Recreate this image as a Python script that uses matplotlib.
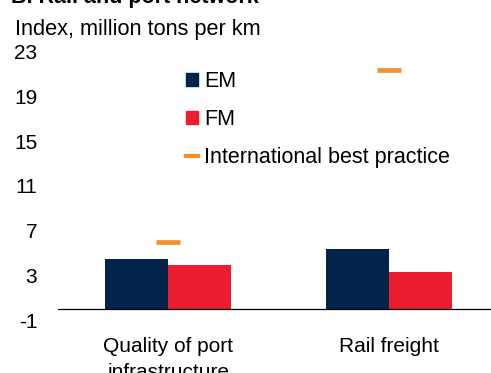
import matplotlib
matplotlib.use("Agg")
import matplotlib.pyplot as plt
from matplotlib.patches import Patch
from matplotlib.lines import Line2D
import numpy as np

plt.rcParams['font.family'] = ['Liberation Sans', 'DejaVu Sans']

categories = ["Quality of port\ninfrastructure", "Rail freight"]
em = [4.45, 5.4]
fm = [3.95, 3.3]
best = [6.0, 21.4]
yticks = [-1, 3, 7, 11, 15, 19, 23]

C_EM = "#02234A"
C_FM = "#EB1E30"
C_BP = "#F7902A"

fig = plt.figure(figsize=(4.91, 3.73), dpi=100)
W, H = 491, 373
ax_left, ax_right = 58, 58 + 441.4
ax_top, ax_bot = 51.6, 320.2
ax = fig.add_axes([ax_left / W, 1 - ax_bot / H, (ax_right - ax_left) / W, (ax_bot - ax_top) / H])

x = np.arange(len(categories))
bw = 0.285
ax.bar(x - bw / 2, em, width=bw, color=C_EM, label="EM")
ax.bar(x + bw / 2, fm, width=bw, color=C_FM, label="FM")
mw = 0.109
ax.hlines(best, x - mw / 2, x + mw / 2, color=C_BP, linewidth=3.4)
ax.axhline(0, color="black", linewidth=0.9)

ax.set_xlim(-0.5, 1.5)
ax.set_ylim(-1, 23)
ax.set_yticks(yticks)
ax.set_yticklabels([str(t) for t in yticks])
ax.set_xticks(x)
ax.set_xticklabels(categories, linespacing=1.45)
ax.tick_params(axis='y', length=0, pad=15, labelsize=15)
ax.tick_params(axis='x', length=0, pad=12, labelsize=15)
for lbl in ax.get_yticklabels():
    lbl.set_y(lbl.get_position()[1])
for s in ax.spines.values():
    s.set_visible(False)

handles = [Patch(color=C_EM), Patch(color=C_FM), Line2D([0], [0], color=C_BP, lw=3)]
leg = fig.legend(handles, ["EM", "FM", "International best practice"],
                 loc="upper left", bbox_to_anchor=(186 / W, 1 - 71 / H),
                 frameon=False, fontsize=15.5, handlelength=0.58, handleheight=0.58,
                 handletextpad=0.25, labelspacing=0.8, borderpad=0, borderaxespad=0)

fig.text(15 / W, 1 - 34.5 / H, "Index, million tons per km", fontsize=15.7, va="baseline", ha="left")
fig.text(11 / W, 1 - 3 / H, "B. Rail and port network", fontsize=15.5, fontweight="bold", va="baseline", ha="left")

fig.savefig("out.png", dpi=100)
